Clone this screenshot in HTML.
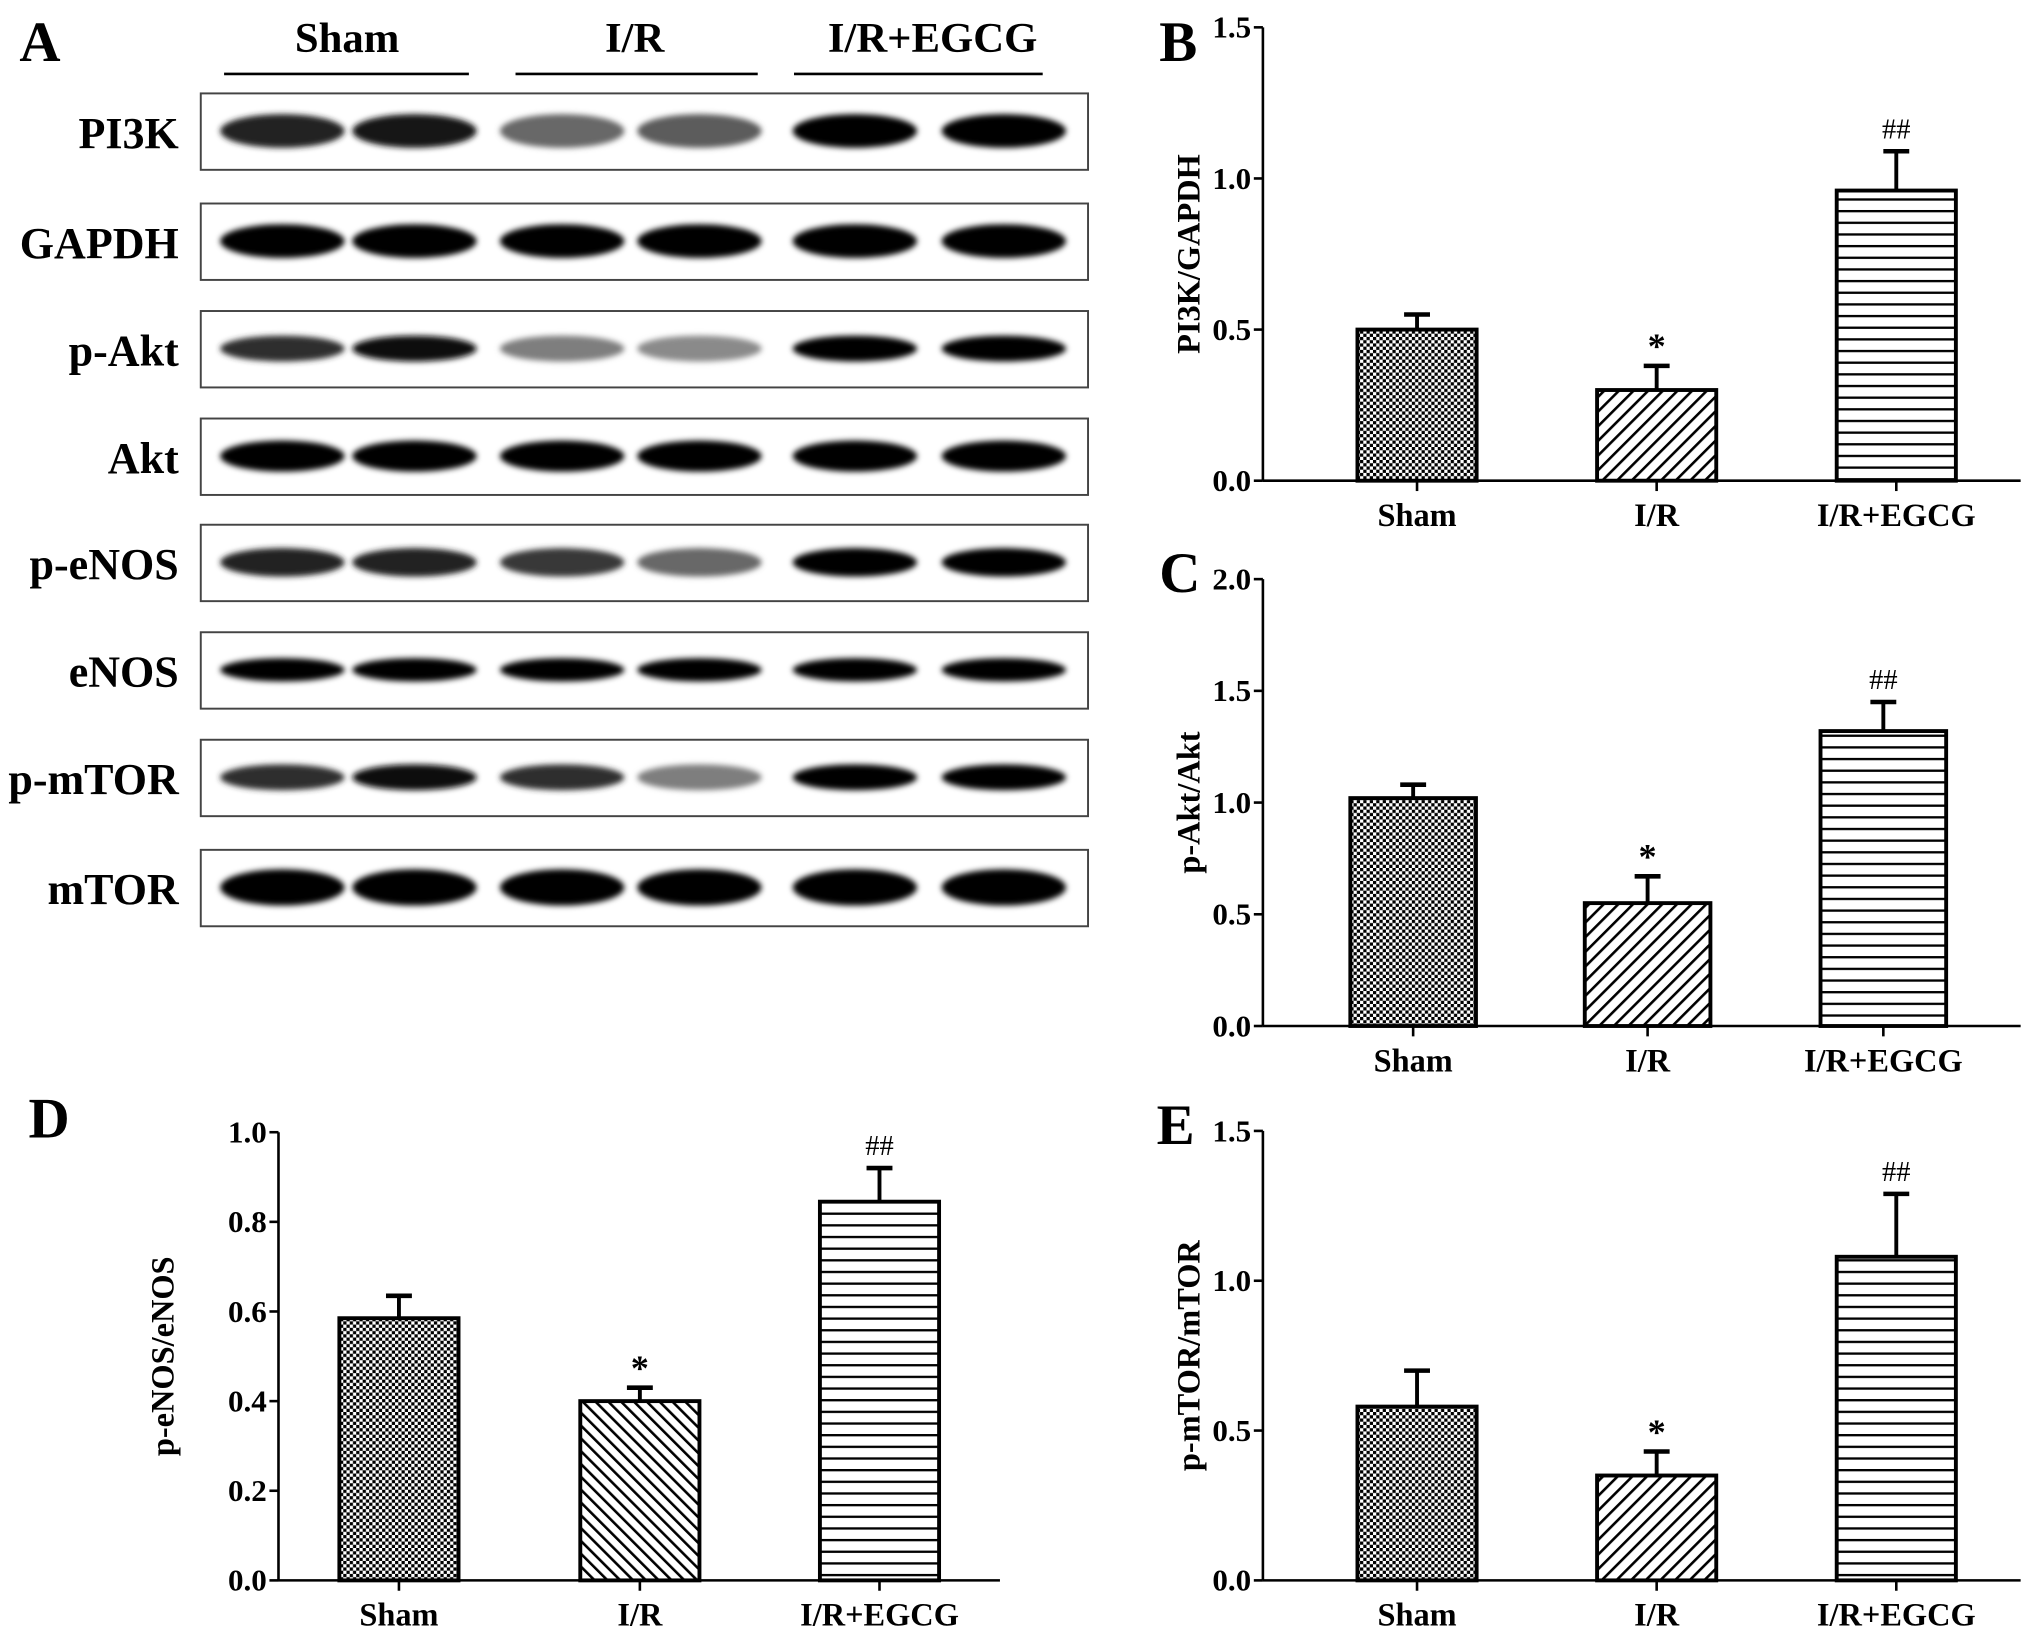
<!DOCTYPE html>
<html><head><meta charset="utf-8"><style>
html,body{margin:0;padding:0;background:#fff}
svg{display:block}
text{font-family:"Liberation Serif",serif;font-weight:bold;fill:#000}
</style></head><body>
<svg id="fig" width="2031" height="1644" viewBox="0 0 1568 1269" xmlns="http://www.w3.org/2000/svg">
<defs>
<pattern id="pChk" width="5" height="5" patternUnits="userSpaceOnUse"><rect width="5" height="5" fill="#fff"/><rect width="2.5" height="2.5" fill="#000"/><rect x="2.5" y="2.5" width="2.5" height="2.5" fill="#000"/></pattern>
<pattern id="pDiag" width="8" height="8" patternUnits="userSpaceOnUse" patternTransform="rotate(45)"><rect width="8" height="8" fill="#fff"/><rect width="2" height="8" fill="#000"/></pattern>
<pattern id="pDiag2" width="7" height="7" patternUnits="userSpaceOnUse" patternTransform="rotate(-45)"><rect width="7" height="7" fill="#fff"/><rect width="2" height="7" fill="#000"/></pattern>
<pattern id="pHor" width="9" height="9" patternUnits="userSpaceOnUse"><rect width="9" height="9" fill="#fff"/><rect width="9" height="1.8" fill="#000"/></pattern>
<filter id="blur" x="-20%" y="-50%" width="140%" height="200%"><feGaussianBlur stdDeviation="2.2"/></filter>
</defs>
<g id="blots"></g>
<g id="charts"></g>
</svg>
<script>
const NS='http://www.w3.org/2000/svg';
const svg=document.getElementById('fig');
function mk(tag,attrs,parent){const e=document.createElementNS(NS,tag);for(const k in attrs)e.setAttribute(k,attrs[k]);(parent||svg).appendChild(e);return e;}

// ---------- Blot data ----------
const blotLabels=['PI3K','GAPDH','p-Akt','Akt','p-eNOS','eNOS','p-mTOR','mTOR'];
const groupLabels=['Sham','I/R','I/R+EGCG'];
const bandDark=[
 [0.85,0.9,0.55,0.6,1,1],
 [1,1,1,1,1,1],
 [0.8,0.95,0.45,0.4,1,1],
 [1,1,1,1,1,1],
 [0.85,0.85,0.75,0.55,1,1],
 [1,1,1,1,1,1],
 [0.8,0.95,0.8,0.45,1,1],
 [1,1,1,1,1,1]];
const bandHeight=[26,26,20,24,22,18,20,28];

const blots=document.getElementById('blots');
const rowTops=[72,157,240,323,405,488,571,656];
const laneX=[218,320,434,540,660,775];
[[268,173,362],[490,398,585],[720,613,805]].forEach((g,i)=>{
  const t=mk('text',{x:g[0],y:40,'text-anchor':'middle','font-size':33},blots);t.textContent=groupLabels[i];
  
  
  const l=mk('line',{x1:g[1],x2:g[2],y1:57,y2:57,stroke:'#000','stroke-width':2},blots);
  
  
});
blotLabels.forEach((lab,r)=>{
  const y=rowTops[r];
  const b=mk('rect',{x:155,y:y,width:685,height:59,fill:'#fff',stroke:'#444','stroke-width':1.5},blots);
  
  
  const t=mk('text',{x:138,y:y+42,'text-anchor':'end','font-size':34},blots);t.textContent=lab;
  
  
  bandDark[r].forEach((d,i)=>{
    const g=Math.round(255*(1-d)*0.9);
    const e=mk('ellipse',{cx:laneX[i],cy:y+29,rx:48,ry:bandHeight[r]/2,fill:`rgb(${g},${g},${g})`,filter:'url(#blur)'},blots);
    
    
  });
});
[['A',15,47],['B',895,47],['C',895,457],['D',22,878],['E',893,883]].forEach(p=>{
  const t=mk('text',{x:p[1],y:p[2],'font-size':44});t.textContent=p[0];
  
  
});

// ---------- Chart data ----------
const categories=['Sham','I/R','I/R+EGCG'];
const bMeans=[0.50,0.30,0.96], bErr=[0.05,0.08,0.13], bTicks=['0.0','0.5','1.0','1.5'];
const cMeans=[1.02,0.55,1.32], cErr=[0.06,0.12,0.13], cTicks=['0.0','0.5','1.0','1.5','2.0'];
const dMeans=[0.585,0.40,0.845], dErr=[0.05,0.03,0.075], dTicks=['0.0','0.2','0.4','0.6','0.8','1.0'];
const eMeans=[0.58,0.35,1.08], eErr=[0.12,0.08,0.21], eTicks=['0.0','0.5','1.0','1.5'];
const marks=['','*','##'];

function chart(o){
  const g=mk('g',{},document.getElementById('charts'));
  
  
  const tv=o.ticks.map(Number);const max=tv[tv.length-1];
  const y=v=>o.y0-(v/max)*(o.y0-o.y1);
  const x=i=>o.xs[i];
  mk('line',{x1:o.ax,x2:o.ax,y1:o.y1,y2:o.y0,stroke:'#000','stroke-width':2},g);
  mk('line',{x1:o.ax,x2:o.axEnd,y1:o.y0,y2:o.y0,stroke:'#000','stroke-width':2},g);
  o.ticks.forEach((t,i)=>{
    const yy=y(tv[i]);
    mk('line',{x1:o.ax-7,x2:o.ax,y1:yy,y2:yy,stroke:'#000','stroke-width':2},g);
    const tx=mk('text',{x:o.ax-9,y:yy+8,'text-anchor':'end','font-size':24},g);tx.textContent=t;
    
    
  });
  const yl=mk('text',{x:0,y:0,'text-anchor':'middle','font-size':25,transform:`translate(${o.ylx},${(o.y0+o.y1)/2}) rotate(-90)`},g);
  yl.textContent=o.ylabel;
  
  
  categories.forEach((c,i)=>{
    const cx=x(i),w=o.bw,v=o.means[i],top=y(v),et=y(v+o.err[i]);
    mk('line',{x1:cx,x2:cx,y1:top,y2:et,stroke:'#000','stroke-width':3},g);
    mk('line',{x1:cx-10,x2:cx+10,y1:et,y2:et,stroke:'#000','stroke-width':3.5},g);
    const r=mk('rect',{x:cx-w/2,y:top,width:w,height:o.y0-top,fill:`url(#${o.pats[i]})`,stroke:'#000','stroke-width':3},g);
    
    
    mk('line',{x1:cx,x2:cx,y1:o.y0,y2:o.y0+8,stroke:'#000','stroke-width':2},g);
    const cl=mk('text',{x:cx,y:o.y0+35,'text-anchor':'middle','font-size':25},g);cl.textContent=c;
    
    
    if(marks[i]){
      const m=mk('text',{x:cx,y:et-(i==1?6:10),'text-anchor':'middle','font-size':i==1?28:22},g);
      m.textContent=marks[i];
      if(i==2)m.setAttribute('style','font-weight:normal');
      
      
    }
  });
}
chart({name:'chart-b-pi3k',ax:975,axEnd:1560,y0:371,y1:21,xs:[1094,1279,1464],bw:92,means:bMeans,err:bErr,ticks:bTicks,ylabel:'PI3K/GAPDH',ylx:926,pats:['pChk','pDiag','pHor']});
chart({name:'chart-c-pakt',ax:975,axEnd:1560,y0:792,y1:447,xs:[1091,1272,1454],bw:97,means:cMeans,err:cErr,ticks:cTicks,ylabel:'p-Akt/Akt',ylx:926,pats:['pChk','pDiag','pHor']});
chart({name:'chart-d-penos',ax:215,axEnd:772,y0:1220,y1:874,xs:[308,494,679],bw:92,means:dMeans,err:dErr,ticks:dTicks,ylabel:'p-eNOS/eNOS',ylx:134,pats:['pChk','pDiag2','pHor']});
chart({name:'chart-e-pmtor',ax:975,axEnd:1560,y0:1220,y1:873,xs:[1094,1279,1464],bw:92,means:eMeans,err:eErr,ticks:eTicks,ylabel:'p-mTOR/mTOR',ylx:926,pats:['pChk','pDiag','pHor']});
</script>
</body></html>
